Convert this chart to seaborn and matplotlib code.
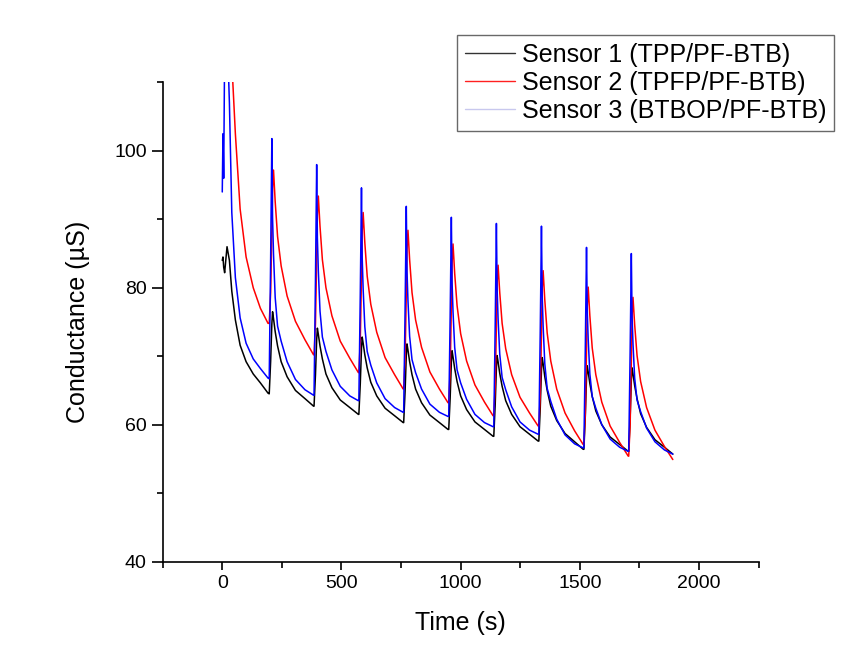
import numpy as np
import pandas as pd
import matplotlib
matplotlib.use('Agg')
import matplotlib.pyplot as plt
import seaborn as sns
from matplotlib.lines import Line2D
from matplotlib.ticker import MultipleLocator

# time axis shared by the three sensors (s)
time_s = [0, 3, 6, 10, 20, 30, 40, 55, 75, 100, 130, 160, 192,
          197, 203, 208, 211, 215, 222, 232, 247, 272, 307, 347, 383,
          385, 391, 396, 399, 403, 410, 420, 435, 460, 495, 535, 571,
          573, 579, 584, 587, 591, 598, 608, 623, 648, 683, 723, 759,
          761, 767, 772, 775, 779, 786, 796, 811, 836, 871, 911, 947,
          950, 956, 961, 964, 968, 975, 985, 1000, 1025, 1060, 1100, 1136,
          1139, 1145, 1150, 1153, 1157, 1164, 1174, 1189, 1214, 1249, 1289, 1325,
          1328, 1334, 1339, 1342, 1346, 1353, 1363, 1378, 1403, 1438, 1478, 1514,
          1517, 1523, 1528, 1531, 1535, 1542, 1552, 1567, 1592, 1627, 1667, 1703,
          1705, 1711, 1716, 1719, 1723, 1730, 1740, 1755, 1780, 1815, 1855, 1890]

# Sensor 1 (TPP/PF-BTB), black
sensor1 = [84.0, 84.5, 83.0, 82.2, 86.0, 84.0, 79.5, 75.3, 71.6, 69.2, 67.4, 66.1, 64.6,
           64.5, 69.3, 74.7, 76.5, 75.5, 73.6, 71.5, 69.2, 67.0, 65.0, 63.8, 62.7,
           62.7, 67.3, 72.4, 74.1, 73.2, 71.5, 69.6, 67.4, 65.4, 63.6, 62.5, 61.5,
           61.5, 66.0, 71.1, 72.8, 71.9, 70.2, 68.3, 66.2, 64.2, 62.4, 61.3, 60.3,
           60.3, 64.9, 70.1, 71.8, 70.9, 69.2, 67.3, 65.2, 63.2, 61.4, 60.3, 59.3,
           59.3, 63.9, 69.1, 70.8, 69.9, 68.2, 66.3, 64.2, 62.2, 60.4, 59.3, 58.3,
           58.3, 63.0, 68.3, 70.1, 69.2, 67.5, 65.6, 63.5, 61.5, 59.7, 58.6, 57.6,
           57.6, 62.5, 68.0, 69.8, 68.9, 67.0, 65.0, 62.7, 60.6, 58.7, 57.5, 56.4,
           56.4, 61.3, 66.8, 68.6, 67.7, 66.0, 64.1, 62.0, 60.0, 58.2, 57.1, 56.1,
           56.1, 61.0, 66.5, 68.3, 67.4, 65.7, 63.8, 61.6, 59.6, 57.8, 56.7, 55.7]

# Sensor 2 (TPFP/PF-BTB), red
sensor2 = [118.0, 122.0, 126.0, 130.0, 128.0, 121.0, 113.0, 102.5, 91.5, 84.5, 80.0, 77.0, 74.8,
           74.8, 79.3, 88.2, 94.5, 97.2, 92.6, 87.5, 83.2, 78.8, 75.1, 72.4, 70.2,
           70.2, 74.8, 84.1, 90.6, 93.4, 89.0, 84.1, 80.0, 75.9, 72.2, 69.7, 67.6,
           67.6, 72.3, 81.6, 88.2, 91.0, 86.6, 81.7, 77.6, 73.5, 69.8, 67.3, 65.2,
           65.2, 69.8, 79.1, 85.6, 88.4, 84.1, 79.3, 75.3, 71.3, 67.7, 65.2, 63.2,
           63.2, 67.8, 77.1, 83.6, 86.4, 82.1, 77.4, 73.3, 69.3, 65.8, 63.3, 61.3,
           61.3, 65.7, 74.5, 80.7, 83.3, 79.3, 74.8, 71.1, 67.3, 64.0, 61.7, 59.8,
           59.8, 64.3, 73.4, 79.8, 82.5, 78.2, 73.4, 69.3, 65.2, 61.7, 59.1, 57.1,
           57.1, 61.7, 70.9, 77.3, 80.1, 75.9, 71.2, 67.3, 63.3, 59.8, 57.4, 55.4,
           55.4, 60.0, 69.3, 75.8, 78.6, 74.6, 70.1, 66.3, 62.5, 59.2, 56.8, 54.9]

# Sensor 3 (BTBOP/PF-BTB), blue
sensor3 = [94.0, 102.5, 96.0, 115.0, 118.0, 107.0, 91.0, 81.5, 75.6, 71.9, 69.6, 68.2, 66.8,
           66.7, 84.3, 101.8, 90.2, 84.9, 78.6, 74.4, 72.2, 69.2, 66.6, 65.1, 64.3,
           64.3, 81.2, 98.0, 87.3, 82.5, 76.6, 72.8, 70.7, 68.0, 65.6, 64.2, 63.5,
           63.5, 79.1, 94.6, 84.4, 79.8, 74.3, 70.7, 68.7, 66.1, 63.8, 62.5, 61.8,
           61.8, 76.9, 91.9, 82.4, 78.1, 72.9, 69.5, 67.6, 65.2, 63.0, 61.8, 61.2,
           61.2, 75.8, 90.3, 80.8, 76.5, 71.3, 68.0, 66.1, 63.7, 61.5, 60.3, 59.7,
           59.7, 74.6, 89.4, 79.9, 75.5, 70.3, 66.9, 65.1, 62.6, 60.4, 59.2, 58.6,
           58.6, 73.8, 89.0, 79.0, 74.4, 68.9, 65.3, 63.4, 60.8, 58.5, 57.2, 56.6,
           56.6, 71.3, 85.9, 76.7, 72.5, 67.4, 64.1, 62.4, 60.0, 57.9, 56.7, 56.1,
           56.1, 70.6, 85.0, 75.9, 71.8, 66.8, 63.6, 61.9, 59.5, 57.5, 56.3, 55.7]

labels = ['Sensor 1 (TPP/PF-BTB)', 'Sensor 2 (TPFP/PF-BTB)', 'Sensor 3 (BTBOP/PF-BTB)']
colors = ['#000000', '#ff0000', '#0000ff']

df = pd.concat([
    pd.DataFrame({'time': time_s, 'value': sensor1, 'sensor': labels[0]}),
    pd.DataFrame({'time': time_s, 'value': sensor2, 'sensor': labels[1]}),
    pd.DataFrame({'time': time_s, 'value': sensor3, 'sensor': labels[2]}),
])

sns.set_style('ticks')
plt.rcParams['font.family'] = ['Liberation Sans', 'DejaVu Sans']
plt.rcParams['text.color'] = 'black'
plt.rcParams['axes.labelcolor'] = 'black'
plt.rcParams['xtick.color'] = 'black'
plt.rcParams['ytick.color'] = 'black'

fig = plt.figure(figsize=(8.68, 6.65), dpi=100)
ax = fig.add_axes([0.1874, 0.1556, 0.6866, 0.7204])

sns.lineplot(data=df, x='time', y='value', hue='sensor', palette=colors,
             estimator=None, sort=False, linewidth=1.1, legend=False, ax=ax)

ax.set_xlim(-250, 2250)
ax.set_ylim(40, 110)
ax.xaxis.set_major_locator(MultipleLocator(500))
ax.xaxis.set_minor_locator(MultipleLocator(250))
ax.yaxis.set_major_locator(MultipleLocator(20))
ax.yaxis.set_minor_locator(MultipleLocator(10))
ax.tick_params(axis='both', which='major', labelsize=14, width=1.2,
               color='black', labelcolor='black')
ax.tick_params(axis='x', which='major', length=6)
ax.tick_params(axis='y', which='major', length=8)
ax.tick_params(axis='both', which='minor', length=4, width=1.2, color='black')
sns.despine(ax=ax)
for s in ['left', 'bottom']:
    ax.spines[s].set_linewidth(1.2)
    ax.spines[s].set_color('black')

ax.set_xlabel('Time (s)', fontsize=18, labelpad=14, color='black')
ax.set_ylabel('Conductance (µS)', fontsize=18, labelpad=17, color='black')

handles = [Line2D([], [], color='#333333', lw=1.0),
           Line2D([], [], color='#ff2020', lw=1.0),
           Line2D([], [], color='#c8c8ee', lw=1.0)]
leg = fig.legend(handles, labels, loc='upper right', bbox_to_anchor=(0.961, 0.947),
                 fontsize=18, frameon=True, fancybox=False, handlelength=2.0,
                 handletextpad=0.3, labelspacing=0.17, borderpad=0.3,
                 borderaxespad=0)
leg.get_frame().set_edgecolor('#444444')
leg.get_frame().set_linewidth(1.0)

fig.savefig('out.png', dpi=100)
